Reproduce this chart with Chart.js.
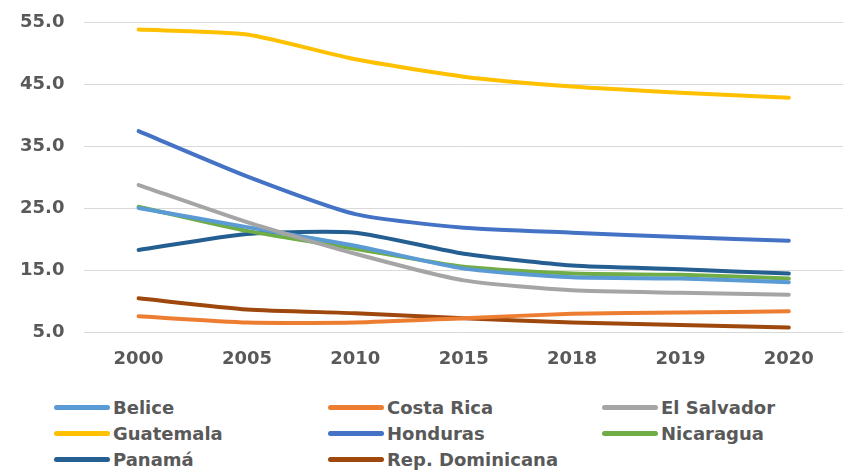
<!DOCTYPE html>
<html>
<head>
<meta charset="utf-8">
<script src="https://cdn.jsdelivr.net/npm/chart.js@4.4.0/dist/chart.umd.min.js"></script>
<style>
    body { margin: 0; background: #fff; }
    #wrap { position: relative; width: 843px; height: 472px; overflow: hidden; }
    #chartBox { position: absolute; left: 0; top: -8px; width: 843px; height: 386px; }
    #legend { position: absolute; left: 54px; top: 396px; width: 780px; }
    .item { position: absolute; display: flex; align-items: center; height: 22px; font: bold 18px "DejaVu Sans", sans-serif; color: #595959; white-space: nowrap; }
    .swatch { width: 56px; height: 5px; border-radius: 3px; margin-right: 3px; }
</style>
</head>
<body>
<div id="wrap">
    <div id="chartBox"><canvas id="myChart"></canvas></div>
    <div id="legend"></div>
</div>
<script>
// 数据
const years = ['2000', '2005', '2010', '2015', '2018', '2019', '2020'];
const countries = ['Belice', 'Costa Rica', 'El Salvador', 'Guatemala', 'Honduras', 'Nicaragua', 'Panamá', 'Rep. Dominicana'];
const colors = ['#5B9BD5', '#ED7D31', '#A5A5A5', '#FFC000', '#4472C4', '#70AD47', '#255E91', '#9E480E'];

const belice = [25.1, 22.0, 19.0, 15.3, 13.9, 13.7, 13.1];
const costaRica = [7.6, 6.6, 6.6, 7.3, 8.0, 8.2, 8.4];
const elSalvador = [28.8, 22.8, 17.7, 13.4, 11.8, 11.4, 11.1];
const guatemala = [53.9, 53.1, 49.1, 46.3, 44.7, 43.7, 42.9];
const honduras = [37.5, 30.2, 24.1, 21.9, 21.1, 20.4, 19.8];
const nicaragua = [25.3, 21.4, 18.5, 15.6, 14.5, 14.3, 13.7];
const panama = [18.3, 20.9, 21.1, 17.7, 15.8, 15.2, 14.5];
const repDom = [10.5, 8.7, 8.1, 7.3, 6.6, 6.2, 5.8];

const seriesValues = [belice, costaRica, elSalvador, guatemala, honduras, nicaragua, panama, repDom];
const yTicks = [5, 15, 25, 35, 45, 55];

const fontFamily = '"DejaVu Sans", sans-serif';

document.addEventListener('DOMContentLoaded', function() {
    const datasets = countries.map((name, i) => ({
        label: name,
        data: seriesValues[i],
        borderColor: colors[i],
        backgroundColor: colors[i],
        borderWidth: 4,
        pointRadius: 0,
        tension: 0.2,
        borderCapStyle: 'round',
        fill: false
    }));

    // 绘制顺序与原图接近
    const order = [3, 4, 2, 0, 5, 6, 1, 7];
    const drawSets = order.map(i => datasets[i]);

    const ctx = document.getElementById('myChart').getContext('2d');
    window.myChart = new Chart(ctx, {
        type: 'line',
        data: { labels: years, datasets: drawSets },
        options: {
            responsive: true,
            maintainAspectRatio: false,
            animation: false,
            layout: { padding: { top: 2, right: 0, left: 0, bottom: 0 } },
            scales: {
                x: {
                    offset: true,
                    grid: { display: false },
                    border: { display: false },
                    ticks: {
                        color: '#595959',
                        padding: 8,
                        maxRotation: 0,
                        font: { family: fontFamily, size: 18, weight: 'bold' }
                    }
                },
                y: {
                    min: 5,
                    max: 55,
                    afterBuildTicks: function(axis) {
                        axis.ticks = yTicks.map(v => ({ value: v }));
                    },
                    grid: { color: '#D9D9D9', lineWidth: 1, drawTicks: false },
                    border: { display: false },
                    ticks: {
                        color: '#595959',
                        padding: 20,
                        font: { family: fontFamily, size: 18, weight: 'bold' },
                        callback: function(value) {
                            return value.toFixed(1);
                        }
                    }
                }
            },
            plugins: {
                legend: { display: false },
                tooltip: { enabled: false }
            }
        }
    });

    // 图例（三列）
    const legend = document.getElementById('legend');
    const colX = [0, 274, 548];
    const rowY = [0, 26, 52];
    countries.forEach((name, i) => {
        const item = document.createElement('div');
        item.className = 'item';
        item.style.left = colX[i % 3] + 'px';
        item.style.top = rowY[Math.floor(i / 3)] + 'px';
        item.innerHTML = '<span class="swatch" style="background:' + colors[i] + '"></span>' + name;
        legend.appendChild(item);
    });
});
</script>
</body>
</html>
